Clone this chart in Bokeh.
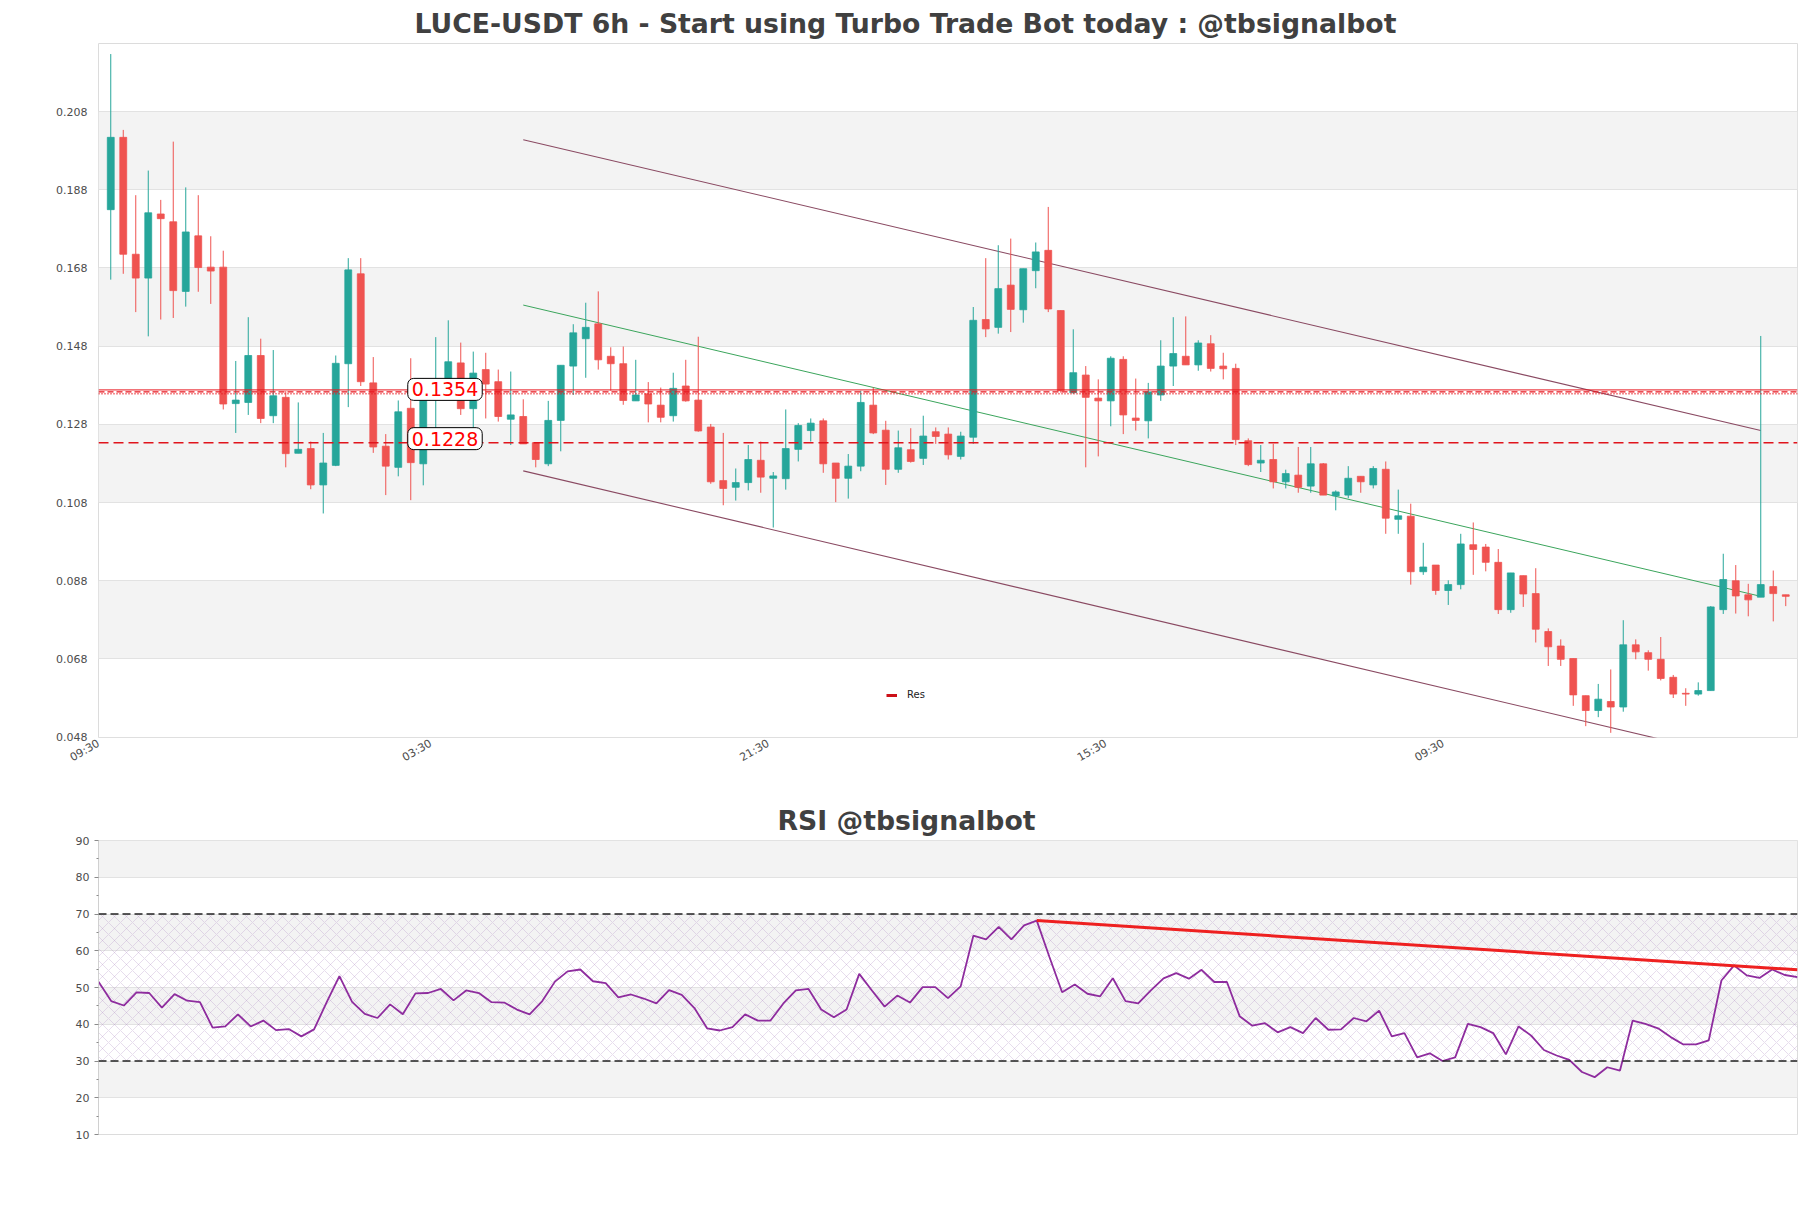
import math
from bokeh.plotting import figure
from bokeh.layouts import column
from bokeh.models import (ColumnDataSource, FixedTicker, PrintfTickFormatter, Label,
                          Legend, LegendItem, Span, Range1d, BoxAnnotation, Title)
from bokeh.embed import file_html
from bokeh.resources import INLINE

# ---------------- data (6h candles, LUCE-USDT) ----------------
opens = [.1829, .2014, .1715, .1654, .1818, .1798, .1620, .1762, .1682, .1682,
         .1333, .1336, .1456, .1302, .1349, .1206, .1218, .1125, .1175, .1435,
         .1665, .1386, .1224, .1170, .1321, .1179, .1387, .1392, .1437, .1320,
         .1420, .1389, .1293, .1300, .1233, .1179, .1290, .1429, .1499, .1537,
         .1454, .1435, .1340, .1358, .1329, .1302, .1378, .1342, .1273, .1136,
         .1119, .1131, .1188, .1142, .1141, .1216, .1264, .1289, .1181, .1142,
         .1173, .1329, .1265, .1165, .1215, .1193, .1261, .1255, .1198, .1247,
         .1548, .1528, .1636, .1573, .1673, .1725, .1571, .1361, .1406, .1347,
         .1340, .1446, .1296, .1289, .1355, .1429, .1454, .1432, .1486, .1429,
         .1423, .1238, .1181, .1190, .1133, .1150, .1122, .1179, .1097, .1099,
         .1147, .1125, .1165, .1037, .1045, .0903, .0920, .0855, .0870, .0972,
         .0966, .0927, .0806, .0893, .0847, .0750, .0713, .0681, .0586, .0548,
         .0571, .0557, .0716, .0696, .0679, .0633, .0592, .0590, .0599, .0806,
         .0880, .0844, .0838, .0865, .0844]
highs = [.2227, .2033, .1866, .1929, .1854, .2003, .1886, .1866, .1761, .1724,
         .1442, .1554, .1499, .1470, .1365, .1336, .1236, .1258, .1456, .1705,
         .1705, .1452, .1255, .1341, .1449, .1397, .1503, .1546, .1489, .1466,
         .1463, .1420, .1415, .1344, .1233, .1340, .1431, .1536, .1591, .1620,
         .1477, .1479, .1445, .1388, .1374, .1412, .1445, .1504, .1281, .1258,
         .1167, .1227, .1236, .1158, .1318, .1283, .1295, .1295, .1181, .1204,
         .1366, .1374, .1289, .1264, .1270, .1302, .1272, .1272, .1261, .1580,
         .1705, .1738, .1755, .1678, .1745, .1836, .1571, .1523, .1429, .1395,
         .1454, .1454, .1397, .1386, .1495, .1554, .1556, .1495, .1508, .1463,
         .1435, .1244, .1227, .1230, .1164, .1222, .1222, .1181, .1111, .1173,
         .1147, .1173, .1185, .1113, .1077, .0977, .0920, .0881, .1000, .1029,
         .0974, .0961, .0900, .0893, .0912, .0758, .0730, .0681, .0586, .0616,
         .0653, .0779, .0730, .0702, .0736, .0639, .0605, .0620, .0815, .0949,
         .0920, .0872, .1506, .0906, .0844]
lows = [.1650, .1665, .1567, .1505, .1548, .1552, .1581, .1619, .1588, .1318,
        .1258, .1304, .1283, .1283, .1170, .1206, .1114, .1052, .1173, .1324,
        .1378, .1207, .1099, .1147, .1086, .1124, .1270, .1361, .1304, .1270,
        .1295, .1287, .1227, .1230, .1170, .1173, .1211, .1355, .1399, .1420,
        .1366, .1330, .1340, .1285, .1285, .1287, .1338, .1261, .1128, .1073,
        .1085, .1111, .1105, .1016, .1113, .1185, .1236, .1156, .1081, .1090,
        .1160, .1255, .1125, .1156, .1182, .1176, .1230, .1190, .1190, .1230,
        .1503, .1512, .1516, .1540, .1628, .1567, .1361, .1358, .1170, .1198,
        .1275, .1255, .1264, .1244, .1340, .1378, .1432, .1417, .1415, .1395,
        .1227, .1173, .1158, .1116, .1116, .1105, .1105, .1099, .1060, .1091,
        .1105, .1116, .1000, .1000, .0870, .0895, .0844, .0818, .0858, .0895,
        .0904, .0795, .0798, .0813, .0722, .0662, .0662, .0560, .0508, .0531,
        .0491, .0545, .0679, .0650, .0625, .0580, .0560, .0586, .0599, .0795,
        .0796, .0789, .0838, .0776, .0815]
closes = [.2014, .1715, .1654, .1821, .1806, .1622, .1772, .1681, .1672, .1332,
          .1342, .1456, .1295, .1353, .1205, .1216, .1125, .1181, .1436, .1675,
          .1389, .1222, .1173, .1312, .1182, .1395, .1395, .1440, .1320, .1411,
          .1383, .1300, .1304, .1230, .1190, .1290, .1431, .1514, .1528, .1445,
          .1435, .1341, .1355, .1332, .1298, .1372, .1340, .1263, .1133, .1116,
          .1131, .1190, .1145, .1148, .1218, .1277, .1283, .1179, .1142, .1173,
          .1336, .1258, .1165, .1220, .1185, .1250, .1249, .1202, .1250, .1546,
          .1524, .1627, .1574, .1678, .1721, .1575, .1366, .1412, .1349, .1340,
          .1449, .1304, .1290, .1363, .1429, .1461, .1432, .1488, .1423, .1422,
          .1241, .1177, .1188, .1133, .1154, .1119, .1179, .1099, .1107, .1142,
          .1133, .1167, .1040, .1046, .0903, .0915, .0855, .0870, .0974, .0960,
          .0927, .0806, .0900, .0846, .0756, .0711, .0679, .0588, .0548, .0577,
          .0557, .0716, .0698, .0679, .0630, .0590, .0590, .0599, .0813, .0883,
          .0841, .0831, .0870, .0847, .0840]

rsi = [51.6, 46.3, 45.1, 48.7, 48.5, 44.5, 48.2, 46.4, 46.0, 39.1,
       39.4, 42.7, 39.4, 41.0, 38.4, 38.7, 36.7, 38.6, 46.0, 53.1,
       46.1, 42.8, 41.7, 45.4, 42.7, 48.4, 48.5, 49.6, 46.5, 49.2,
       48.5, 46.0, 45.9, 44.0, 42.7, 46.3, 51.6, 54.4, 54.9, 51.7,
       51.2, 47.3, 48.1, 47.0, 45.7, 49.3, 48.0, 44.4, 38.9, 38.3,
       39.2, 42.7, 41.0, 41.0, 45.6, 49.2, 49.6, 44.0, 41.9, 44.0,
       53.7, 49.2, 44.8, 47.8, 45.9, 50.1, 50.1, 47.1, 50.3, 64.1,
       63.1, 66.5, 63.1, 66.9, 68.2, 58.3, 48.7, 50.8, 48.3, 47.6,
       52.5, 46.3, 45.7, 49.2, 52.5, 53.9, 52.4, 54.8, 51.5, 51.5,
       42.2, 39.6, 40.3, 37.8, 39.2, 37.6, 41.7, 38.5, 38.6, 41.7,
       40.8, 43.7, 36.7, 37.6, 31.0, 32.1, 30.0, 31.0, 40.1, 39.2,
       37.6, 31.8, 39.4, 36.9, 33.0, 31.5, 30.3, 27.0, 25.6, 28.3,
       27.4, 41.0, 40.1, 38.9, 36.5, 34.5, 34.5, 35.6, 51.9, 56.0,
       53.3, 52.6, 54.9, 53.4, 52.8]

# trend channel (candle index, price)
upper_x = [33, 132]
upper_y = [0.2008, 0.1264]
mid_x = [33, 132]
mid_y = [0.1585, 0.0840]
lower_x = [33, 132]
lower_y = [0.1161, 0.0414]

# resistance lines
res_cluster_levels = [0.1368, 0.1363, 0.1358]
res_dash_level = 0.1233
res_label_texts = ["0.1354", "0.1228"]
res_label_levels = [0.1354, 0.1228]
res_label_x = 24

# RSI trend line
rsi_trend_x = [74, 134]
rsi_trend_y = [68.2, 54.8]

# axes
price_ticks = [0.048, 0.068, 0.088, 0.108, 0.128, 0.148, 0.168, 0.188, 0.208]
xtick_pos = [-0.98, 25.6, 52.6, 79.6, 106.6]
xtick_labels = ["09:30", "03:30", "21:30", "15:30", "09:30"]
rsi_ticks = [10, 20, 30, 40, 50, 60, 70, 80, 90]
rsi_minor = [15, 25, 35, 45, 55, 65, 75, 85]
rsi_levels = [30, 70]

MAIN_TITLE = "LUCE-USDT 6h - Start using Turbo Trade Bot today : @tbsignalbot"
RSI_TITLE = "RSI @tbsignalbot"

GREEN = "#26a69a"
RED = "#ef5350"
CHAN = "#8a4a62"
AXIS_TXT = "#4d4d4d"
TITLE_C = "#404040"
BAND = "#f3f3f3"
FONT = "DejaVu Sans"

n = len(opens)
xs = list(range(n))
colors = [GREEN if c >= o else RED for o, c in zip(opens, closes)]
src = ColumnDataSource(dict(
    x=xs, high=highs, low=lows,
    top=[max(o, c) for o, c in zip(opens, closes)],
    bottom=[min(o, c) for o, c in zip(opens, closes)],
    color=colors))


def add_bands(fig, ticks):
    # alternate shaded bands: every second interval between ticks
    for lo, hi in zip(ticks[1::2], ticks[2::2]):
        fig.add_layout(BoxAnnotation(bottom=lo, top=hi, fill_color=BAND, fill_alpha=1.0,
                                     line_alpha=0, level="image"))


# ---------------- main chart ----------------
p = figure(width=1811, height=778,
           x_range=Range1d(-0.98, 134.94), y_range=Range1d(0.0479, 0.2254),
           output_backend="svg", toolbar_location=None,
           min_border_left=98, min_border_right=14, min_border_top=43, min_border_bottom=41)
p.outline_line_color = "#dcdcdc"
p.xgrid.visible = False
p.ygrid.grid_line_color = "#e2e2e2"
add_bands(p, price_ticks)

p.add_layout(Title(text=MAIN_TITLE, align="left", offset=316, vertical_align="bottom",
                   standoff=9, text_font=FONT, text_font_style="bold",
                   text_font_size="26.7px", text_color=TITLE_C), "above")

p.yaxis.ticker = FixedTicker(ticks=price_ticks, minor_ticks=[])
p.yaxis.formatter = PrintfTickFormatter(format="%.3f")
p.yaxis.axis_line_color = None
p.yaxis.major_tick_line_color = None
p.yaxis.minor_tick_line_color = None
p.yaxis.major_tick_out = 0
p.yaxis.major_label_standoff = 11
p.yaxis.major_label_text_font = FONT
p.yaxis.major_label_text_font_size = "11px"
p.yaxis.major_label_text_color = AXIS_TXT

p.xaxis.ticker = FixedTicker(ticks=xtick_pos, minor_ticks=[])
p.xaxis.major_label_overrides = {pos: lab for pos, lab in zip(xtick_pos, xtick_labels)}
p.xaxis.major_label_orientation = math.pi / 6
p.xaxis.axis_line_color = None
p.xaxis.major_tick_line_color = None
p.xaxis.minor_tick_line_color = None
p.xaxis.major_tick_out = 0
p.xaxis.major_label_standoff = 5
p.xaxis.major_label_text_font = FONT
p.xaxis.major_label_text_font_size = "11px"
p.xaxis.major_label_text_color = AXIS_TXT

# resistance lines
for lvl, dash, w in zip(res_cluster_levels, ["solid", "6 3", "1 2"], [1.0, 1.4, 1.6]):
    p.add_layout(Span(location=lvl, dimension="width", line_color="#e8141c",
                      line_dash=dash, line_width=w))
p.add_layout(Span(location=res_dash_level, dimension="width", line_color="#e0141c",
                  line_dash="10 5", line_width=1.5))

# channel
p.line(upper_x, upper_y, line_color=CHAN, line_width=1.1)
p.line(mid_x, mid_y, line_color="#3ba55c", line_width=1.0)
p.line(lower_x, lower_y, line_color=CHAN, line_width=1.1)

# candles
p.segment(x0="x", y0="low", x1="x", y1="high", line_color="color", line_width=1, source=src)
p.vbar(x="x", width=0.55, top="top", bottom="bottom", fill_color="color",
       line_color="color", line_width=0.8, source=src)

# level labels
for txt, lvl in zip(res_label_texts, res_label_levels):
    p.add_layout(Label(x=res_label_x, y=lvl, text=txt, x_offset=-3, y_offset=6,
                       text_align="left", text_baseline="middle",
                       text_font=FONT, text_font_size="19px", text_color="#ff0000",
                       background_fill_color="white", background_fill_alpha=1.0,
                       border_line_color="black", border_line_width=1,
                       border_radius=6, padding=4))

# legend (legend-only glyph: a NaN point draws nothing in the plot)
nan = float("nan")
res_legend = p.line(x=[nan], y=[nan], line_color="#cc1018", line_width=3)
legend = Legend(items=[LegendItem(label="Res", renderers=[res_legend])],
                location=(788, 37), orientation="horizontal",
                glyph_width=11, glyph_height=10, label_standoff=10,
                padding=0, margin=0, spacing=0,
                border_line_alpha=0, background_fill_alpha=0,
                label_text_font=FONT, label_text_font_size="10px",
                label_text_color="#222222")
p.add_layout(legend)

# ---------------- RSI chart ----------------
p2 = figure(width=1811, height=410,
            x_range=Range1d(0, n - 1), y_range=Range1d(10, 90),
            output_backend="svg", toolbar_location=None,
            min_border_left=97, min_border_right=14, min_border_top=62, min_border_bottom=54)
p2.outline_line_color = "#dcdcdc"
p2.xgrid.visible = False
p2.xaxis.visible = False
p2.ygrid.grid_line_color = "#e2e2e2"
add_bands(p2, rsi_ticks)

p2.add_layout(Title(text=RSI_TITLE, align="left", offset=679, vertical_align="bottom",
                    standoff=9, text_font=FONT, text_font_style="bold",
                    text_font_size="26.7px", text_color=TITLE_C), "above")

p2.yaxis.ticker = FixedTicker(ticks=rsi_ticks, minor_ticks=rsi_minor)
p2.yaxis.axis_line_color = "#d0d0d0"
p2.yaxis.major_tick_line_color = "#8a8a8a"
p2.yaxis.minor_tick_line_color = "#8a8a8a"
p2.yaxis.major_tick_out = 4
p2.yaxis.major_tick_in = 0
p2.yaxis.minor_tick_out = 2
p2.yaxis.minor_tick_in = 0
p2.yaxis.major_label_standoff = 5
p2.yaxis.major_label_text_font = FONT
p2.yaxis.major_label_text_font_size = "11px"
p2.yaxis.major_label_text_color = AXIS_TXT

p2.add_layout(BoxAnnotation(bottom=rsi_levels[0], top=rsi_levels[1], fill_alpha=0,
                            line_alpha=0, hatch_pattern="diagonal_cross",
                            hatch_color="#b08cc2", hatch_alpha=0.5,
                            hatch_scale=12, hatch_weight=0.6, level="underlay"))
for lvl in rsi_levels:
    p2.add_layout(Span(location=lvl, dimension="width", line_color="#222222",
                       line_dash="8 4", line_width=1.3))

p2.line(xs, rsi, line_color="#8e2c9e", line_width=1.8)
p2.line(rsi_trend_x, rsi_trend_y, line_color="#ee2020", line_width=3)

layout = column(p, p2)
open("out.html", "w").write(file_html(layout, INLINE))
